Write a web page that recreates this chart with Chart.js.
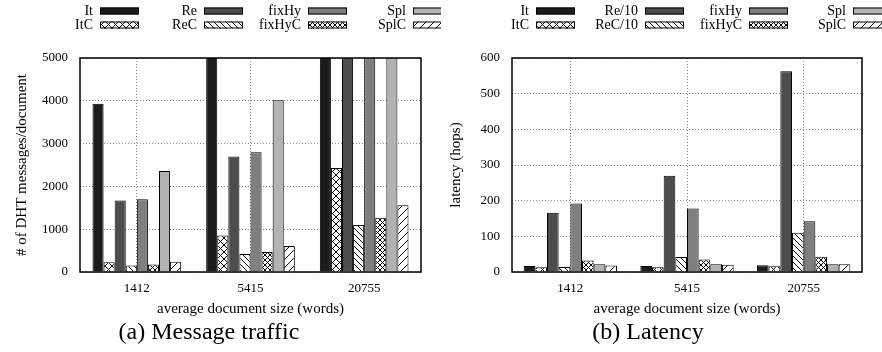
<!DOCTYPE html>
<html><head><meta charset="utf-8">
<script src="https://cdn.jsdelivr.net/npm/chart.js@4/dist/chart.umd.min.js"></script>
<style>
html,body{margin:0;padding:0;background:#fff;}
#wrap{position:relative;width:882px;height:352px;overflow:hidden;background:#fff;}
canvas{position:absolute;top:0;}
.cap{position:absolute;top:318px;font-family:'Liberation Serif',serif;font-size:24px;line-height:26px;white-space:nowrap;transform:translateX(-50%);color:#000;}
</style></head><body>
<div id="wrap">
<canvas id="c1" width="441" height="352" style="left:0"></canvas>
<canvas id="c2" width="441" height="352" style="left:441px"></canvas>
<div class="cap" style="left:209px">(a) Message traffic</div>
<div class="cap" style="left:648px">(b) Latency</div>
</div>
<script>
// ---- data ----
const categories = ['1412', '5415', '20755'];
const trafficLabels = ['It', 'ItC', 'Re', 'ReC', 'fixHy', 'fixHyC', 'Spl', 'SplC'];
const latencyLabels = ['It', 'ItC', 'Re/10', 'ReC/10', 'fixHy', 'fixHyC', 'Spl', 'SplC'];
const trafficTicks = [0, 1000, 2000, 3000, 4000, 5000];
const latencyTicks = [0, 100, 200, 300, 400, 500, 600];

const trafficIt     = [3930, 9000, 20000];
const trafficItC    = [230, 850, 2430];
const trafficRe     = [1670, 2700, 9000];
const trafficReC    = [150, 420, 1100];
const trafficFixHy  = [1700, 2800, 8000];
const trafficFixHyC = [175, 470, 1270];
const trafficSpl    = [2360, 4010, 7000];
const trafficSplC   = [240, 610, 1560];

const latencyIt     = [17, 17, 19];
const latencyItC    = [13, 13, 16];
const latencyRe     = [166, 270, 563];
const latencyReC    = [14, 42, 110];
const latencyFixHy  = [192, 178, 142];
const latencyFixHyC = [32, 35, 43];
const latencySpl    = [22, 22, 22];
const latencySplC   = [18, 20, 22];

// ---- styles ----
const FONT = "'Liberation Serif', 'Times New Roman', serif";
function makePattern(kind) {
  const s = {cross: 7, dense: 5, back: 6, fwd: 8}[kind];
  const c = document.createElement('canvas');
  c.width = s; c.height = s;
  const g = c.getContext('2d');
  g.fillStyle = '#fff'; g.fillRect(0, 0, s, s);
  g.strokeStyle = '#000'; g.lineWidth = 1;
  const fwd = () => { g.beginPath(); g.moveTo(-1, s + 1); g.lineTo(s + 1, -1);
    g.moveTo(-2, 2); g.lineTo(2, -2); g.moveTo(s - 2, s + 2); g.lineTo(s + 2, s - 2); g.stroke(); };
  const back = () => { g.beginPath(); g.moveTo(-1, -1); g.lineTo(s + 1, s + 1);
    g.moveTo(s - 2, -2); g.lineTo(s + 2, 2); g.moveTo(-2, s - 2); g.lineTo(2, s + 2); g.stroke(); };
  if (kind === 'cross' || kind === 'dense') { fwd(); back(); }
  else if (kind === 'back') back();
  else fwd();
  return g.createPattern(c, 'repeat');
}
const fills = ['#1c1c1c', makePattern('cross'), '#4d4d4d', makePattern('back'),
               '#7f7f7f', makePattern('dense'), '#b2b2b2', makePattern('fwd')];

const legendPlugin = {
  id: 'gpLegend',
  afterDraw(chart, args, opts) {
    const ctx = chart.ctx;
    ctx.save();
    ctx.font = '14px ' + FONT;
    ctx.textAlign = 'right'; ctx.textBaseline = 'middle';
    chart.data.datasets.forEach((ds, i) => {
      const col = Math.floor(i / 2), row = i % 2;
      const sx = opts.cols[col], cy = opts.rows[row];
      ctx.fillStyle = '#000';
      ctx.fillText(ds.label, sx - 7, cy);
      ctx.fillStyle = ds.backgroundColor;
      ctx.fillRect(sx, cy - 3.5, 39, 7);
      ctx.strokeStyle = '#000'; ctx.lineWidth = 1;
      ctx.strokeRect(sx + 0.5, cy - 3, 38, 6);
    });
    ctx.restore();
  }
};
const framePlugin = {
  id: 'frame',
  afterDatasetsDraw(chart) {
    const a = chart.chartArea, ctx = chart.ctx;
    ctx.save();
    ctx.strokeStyle = '#000'; ctx.lineWidth = 1.5;
    ctx.strokeRect(a.left, a.top, a.right - a.left, a.bottom - a.top);
    ctx.restore();
  }
};

function build(id, labels, series, ticks, yTitle, yWidth, yTitlePad, legendCols, catPct) {
  const datasets = series.map((d, i) => ({
    label: labels[i], data: d, backgroundColor: fills[i],
    borderColor: '#000', borderWidth: 1,
    categoryPercentage: catPct, barPercentage: 1.0
  }));
  return new Chart(document.getElementById(id), {
    type: 'bar',
    data: {labels: categories, datasets},
    plugins: [legendPlugin, framePlugin],
    options: {
      responsive: false, animation: false, devicePixelRatio: 1,
      layout: {padding: {top: 58, right: 20, left: 0, bottom: 0}},
      plugins: {legend: {display: false}, tooltip: {enabled: false},
        gpLegend: {cols: legendCols, rows: [11, 25]}},
      scales: {
        x: {
          grid: {offset: false, color: '#8a8a8a', drawTicks: false},
          border: {display: false, dash: [1, 2]},
          ticks: {padding: 9, color: '#000', font: {family: FONT, size: 13}},
          title: {display: true, text: 'average document size (words)', color: '#000',
                  font: {family: FONT, size: 15}, padding: {top: 0, bottom: 34}},
          afterFit(s) { s.height = 80; }
        },
        y: {
          min: ticks[0], max: ticks[ticks.length - 1],
          afterBuildTicks(s) { s.ticks = ticks.map(v => ({value: v})); },
          grid: {color: '#8a8a8a', drawTicks: false},
          border: {display: false, dash: [1, 2]},
          ticks: {padding: 12, color: '#000', font: {family: FONT, size: 13},
                  callback: v => String(v)},
          title: {display: true, text: yTitle, color: '#000',
                  font: {family: FONT, size: 15}, padding: {top: yTitlePad, bottom: 0}},
          afterFit(s) { s.width = yWidth; }
        }
      }
    }
  });
}

build('c1', trafficLabels,
  [trafficIt, trafficItC, trafficRe, trafficReC, trafficFixHy, trafficFixHyC, trafficSpl, trafficSplC],
  trafficTicks, '# of DHT messages/document', 80, 13, [100, 204, 308, 413], 0.78);
build('c2', latencyLabels,
  [latencyIt, latencyItC, latencyRe, latencyReC, latencyFixHy, latencyFixHyC, latencySpl, latencySplC],
  latencyTicks, 'latency (hops)', 71, 6, [95, 204, 308, 412], 0.8);
</script>
</body></html>
